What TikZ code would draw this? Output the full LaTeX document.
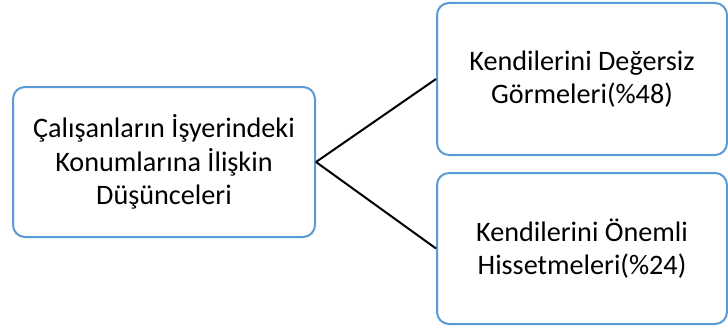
\documentclass[tikz,border=0pt]{standalone}
\usepackage{fontspec}
\setmainfont{Carlito}
\begin{document}
\begin{tikzpicture}[x=1pt,y=-1pt,
  box/.style={draw=boxblue,line width=2pt,rounded corners=12pt,fill=white,align=center,
    font=\fontsize{28.2}{33.5}\selectfont,inner sep=0pt},
  link/.style={draw=black,line width=2pt}]
\definecolor{boxblue}{HTML}{5B9BD5}
\useasboundingbox (0,0) rectangle (728,329);
\node[box,minimum width=302pt,minimum height=150pt] (L) at (164,162)
  {Çalışanların İşyerindeki\\Konumlarına İlişkin\\Düşünceleri};
\node[box,minimum width=290pt,minimum height=152pt] (T) at (582,79)
  {Kendilerini Değersiz\\Görmeleri(\%48)};
\node[box,minimum width=290pt,minimum height=151pt] (B) at (582,248.5)
  {Kendilerini Önemli\\Hissetmeleri(\%24)};
\draw[link] (L.east) -- (T.west);
\draw[link] (L.east) -- (B.west);
\end{tikzpicture}
\end{document}
